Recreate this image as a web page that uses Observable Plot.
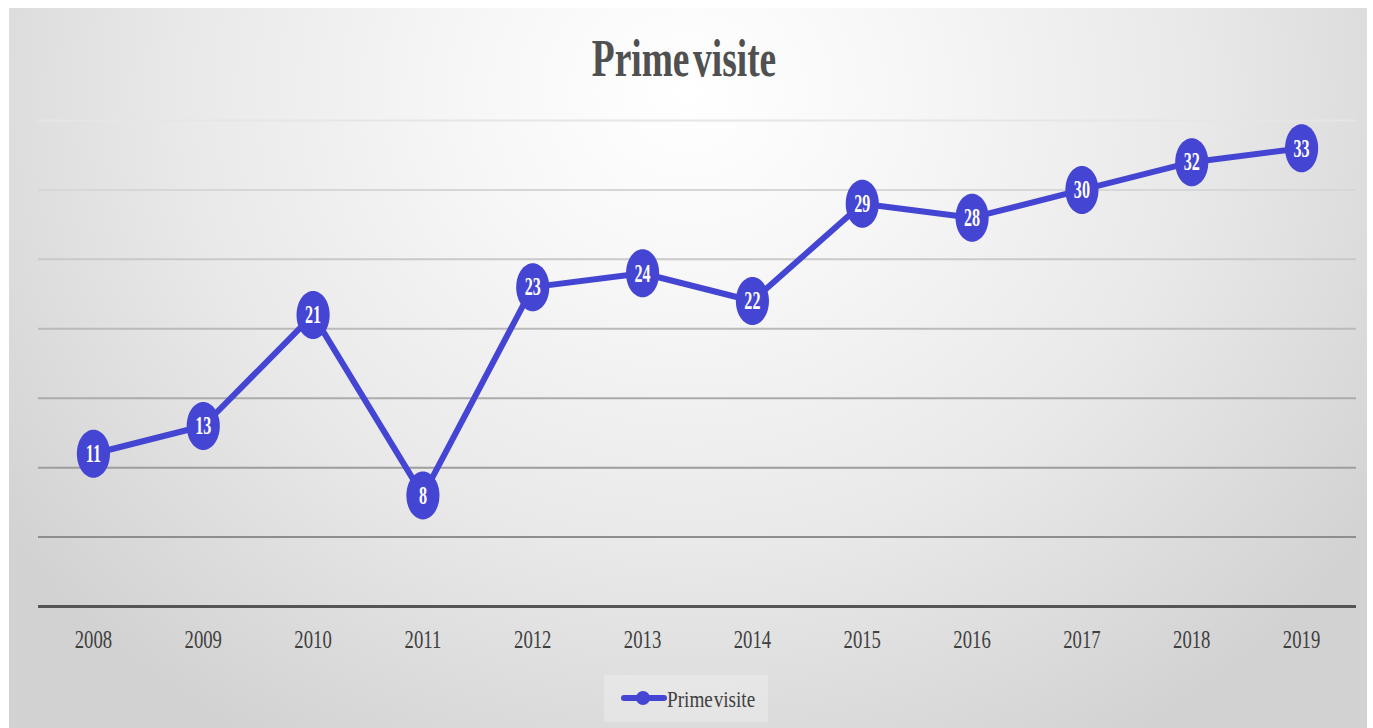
<!DOCTYPE html>
<html>
<head>
<meta charset="utf-8">
<script src="https://cdn.jsdelivr.net/npm/d3@7"></script>
<script src="https://cdn.jsdelivr.net/npm/@observablehq/plot@0.6"></script>
<style>
  body { margin: 0; background: #ffffff; }
  #page { position: relative; width: 1373px; height: 728px; overflow: hidden; background: #ffffff; }
  #box {
    position: absolute; left: 9px; top: 8px; width: 1358px; height: 720px;
    background: radial-gradient(ellipse 62% 105% at 50% 12%, #ffffff 0%, #f7f7f7 25%, #e9e9e9 60%, #d2d2d2 100%);
  }
  #title {
    position: absolute; left: 0; top: 29px; width: 1368px; text-align: center;
    font-family: "Liberation Serif", "Times New Roman", serif; font-weight: bold;
    font-size: 52px; line-height: normal; color: #505050; word-spacing: -8px;
    transform: scaleX(0.72); transform-origin: 684px 0; white-space: nowrap;
  }
  #chart { position: absolute; left: 0; top: 0; }
  #legend { position: absolute; left: 0; top: 0; }
  .xlabels text { font-size: 26px; }
</style>
</head>
<body>
<div id="page">
  <div id="box"></div>
  <div id="title">Prime visite</div>
  <div id="chart"></div>
  <div id="legend"></div>
</div>
<script>
// ---- data ----
const years = ["2008","2009","2010","2011","2012","2013","2014","2015","2016","2017","2018","2019"];
const values = [11, 13, 21, 8, 23, 24, 22, 29, 28, 30, 32, 33];
const gridValues = [5, 10, 15, 20, 25, 30, 35];
const seriesName = "Prime visite";

const data = years.map((year, i) => ({year, value: values[i]}));

const lineColor = "#4545d3";
const serif = "'Liberation Serif', 'Times New Roman', serif";

// ellipse symbol (markers are tall ovals in the reference)
const ellipseSymbol = {
  draw(context, size) {
    const r = Math.sqrt(size / Math.PI);
    const rx = r * 0.69, ry = r, k = 0.5523;
    context.moveTo(rx, 0);
    context.bezierCurveTo(rx, ry * k, rx * k, ry, 0, ry);
    context.bezierCurveTo(-rx * k, ry, -rx, ry * k, -rx, 0);
    context.bezierCurveTo(-rx, -ry * k, -rx * k, -ry, 0, -ry);
    context.bezierCurveTo(rx * k, -ry, rx, -ry * k, rx, 0);
    context.closePath();
  }
};

const gridShade = d3.interpolateRgb("#8e8e8e", "#e6e6e6");

const plot = Plot.plot({
  width: 1373,
  height: 680,
  marginTop: 120,
  marginBottom: 74,
  marginLeft: 38,
  marginRight: 17,
  style: {background: "transparent", fontFamily: serif, overflow: "visible"},
  x: {type: "point", domain: years, padding: 0.5, round: false, label: null},
  y: {domain: [0, 35], axis: null},
  marks: [
    Plot.ruleY(gridValues, {stroke: d => gridShade((d - 5) / 30), strokeWidth: 2}),
    Plot.ruleY([0], {stroke: "#555555", strokeWidth: 3}),
    Plot.line(data, {x: "year", y: "value", stroke: lineColor, strokeWidth: 6, strokeLinejoin: "round"}),
    Plot.dot(data, {x: "year", y: "value", r: 24, symbol: ellipseSymbol, fill: lineColor, stroke: "none"}),
    Plot.text(data, {x: "year", y: "value", text: d => String(d.value), fill: "white",
      fontWeight: "bold", fontSize: 26, fontFamily: serif, className: "vlabels"}),
    Plot.axisX({tickSize: 0, tickPadding: 23, fontSize: 26, fill: "#404040", label: null, className: "xlabels"})
  ]
});

// horizontally condense text (reference typography is narrow)
function squeeze(el, s) {
  const xa = el.getAttribute("x");
  const x = xa && !/em$/.test(xa) ? +xa : 0;
  if (xa && !/em$/.test(xa)) el.removeAttribute("x");
  const t = el.getAttribute("transform") || "";
  el.setAttribute("transform", `${t} translate(${x},0) scale(${s},1)`);
}
plot.querySelectorAll(".vlabels text").forEach(el => squeeze(el, 0.62));
plot.querySelectorAll(".xlabels text").forEach(el => squeeze(el, 0.72));
document.getElementById("chart").appendChild(plot);

// legend
const lg = d3.select("#legend").append("svg").attr("width", 1373).attr("height", 728);
lg.append("rect").attr("x", 604).attr("y", 675).attr("width", 164).attr("height", 47)
  .attr("fill", "#ffffff").attr("fill-opacity", 0.25);
lg.append("line").attr("x1", 624).attr("x2", 664).attr("y1", 698).attr("y2", 698)
  .attr("stroke", lineColor).attr("stroke-width", 6).attr("stroke-linecap", "round");
lg.append("circle").attr("cx", 643).attr("cy", 698).attr("r", 7).attr("fill", lineColor);
lg.append("text").attr("transform", "translate(667,707) scale(0.8,1)")
  .attr("font-family", serif).attr("font-size", 24).attr("fill", "#404040")
  .attr("word-spacing", -5)
  .text(seriesName);
</script>
</body>
</html>
